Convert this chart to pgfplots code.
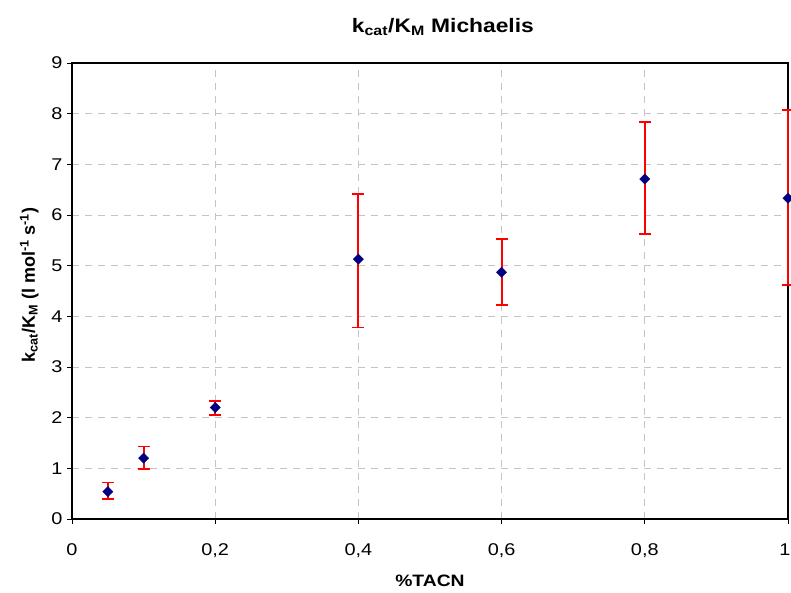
\documentclass[border=0pt]{standalone}
\usepackage{pgfplots}
\pgfplotsset{compat=1.18}
\usepackage{fontspec}
\setmainfont[FakeStretch=1.17]{Liberation Sans}
\newfontfamily\ylabfont{Liberation Sans}
\definecolor{navy}{RGB}{0,0,128}
\definecolor{gridgray}{RGB}{196,196,196}
\begin{document}
\begin{tikzpicture}[x=1pt,y=1pt]
\useasboundingbox (-72,-73) rectangle (719,519);
\clip (-72,-73) rectangle (719,519);
\begin{axis}[
  at={(0,0)}, anchor=south west,
  scale only axis, width=716pt, height=456pt,
  xmin=0, xmax=1, ymin=0, ymax=9,
  xtick={0,0.2,0.4,0.6,0.8,1},
  xticklabels={0,{0,2},{0,4},{0,6},{0,8},{\makebox[0pt][r]{1\kern-2.5pt}}},
  ytick={0,1,...,9},
  xtick pos=left, ytick pos=left,
  tick align=outside, major tick length=5pt,
  tick style={black, line width=0.8pt},
  axis line style={black, line width=1.4pt},
  grid=major,
  major grid style={gridgray, line width=1pt, dash pattern=on 7pt off 6pt},
  /pgf/number format/assume math mode=true,
  ticklabel style={font=\fontsize{17}{19}\selectfont},
  xticklabel style={anchor=base, yshift=-31pt},
  yticklabel style={xshift=-1pt},
  every axis x label/.style={at={(axis description cs:0.5,0)}, anchor=base, yshift=-67pt, font=\bfseries\fontsize{16.5}{18}\selectfont},
  every axis y label/.style={at={(axis description cs:-0.0517,0.513)}, rotate=90, anchor=base, font=\ylabfont\bfseries\fontsize{18}{20}\selectfont},
  every axis title/.style={at={(axis description cs:0.518,1)}, anchor=base, yshift=31pt, font=\bfseries\fontsize{19.5}{22}\selectfont},
  xlabel={\%TACN},
  ylabel={k\textsubscript{cat}/K\textsubscript{M} (l mol\textsuperscript{-1} s\textsuperscript{-1})},
  title={k\textsubscript{cat}/K\textsubscript{M} Michaelis},
  clip=false,
]
\addplot[only marks, mark=square*, mark size=3.6pt, color=navy,
  mark options={rotate=45, fill=navy, draw=navy},
  error bars/.cd, y dir=both, y explicit,
  error bar style={color=red, solid, line width=2pt},
  error mark options={color=red, solid, rotate=90, line width=1.8pt, mark size=6pt}]
coordinates {
  (0.05,0.54) += (0,0.18) -= (0,0.15)
  (0.1,1.20) += (0,0.23) -= (0,0.21)
  (0.2,2.20) += (0,0.13) -= (0,0.14)
  (0.4,5.13) += (0,1.29) -= (0,1.35)
  (0.6,4.87) += (0,0.66) -= (0,0.65)
  (0.8,6.71) += (0,1.13) -= (0,1.08)
  (1.0,6.33) += (0,1.74) -= (0,1.71)
};
\end{axis}
\end{tikzpicture}
\end{document}
